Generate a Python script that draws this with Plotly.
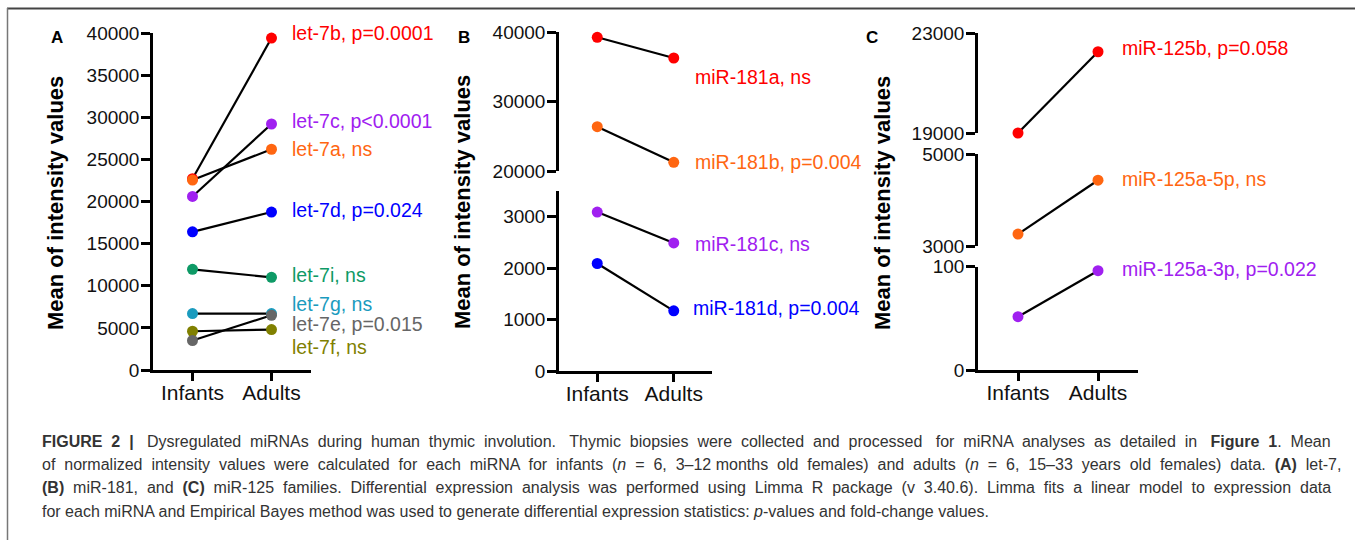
import plotly.graph_objects as go

W, H = 1355, 540

groups = ["Infants", "Adults"]

# ---------------- Panel A: let-7 family ----------------
a_names = ["let-7b", "let-7c", "let-7a", "let-7d", "let-7i", "let-7g", "let-7f", "let-7e"]
a_stats = ["p=0.0001", "p<0.0001", "ns", "p=0.024", "ns", "ns", "ns", "p=0.015"]
a_infants = [22700, 20600, 22550, 16400, 11950, 6700, 4600, 3500]
a_adults = [39400, 29200, 26200, 18750, 11000, 6700, 4800, 6500]
a_colors = ["#FF0000", "#A020F0", "#FF6611", "#0000FF", "#0E9A66", "#1A9BBE", "#808000", "#666666"]
a_label_y = [40000, 29600, 26230, 19000, 11280, 7800, 2770, 5420]
a_ticks = [0, 5000, 10000, 15000, 20000, 25000, 30000, 35000, 40000]

# ---------------- Panel B: miR-181 family ----------------
b_names = ["miR-181a", "miR-181b", "miR-181c", "miR-181d"]
b_stats = ["ns", "p=0.004", "ns", "p=0.004"]
b_infants = [39240, 26370, 3090, 2090]
b_adults = [36260, 21250, 2490, 1170]
b_colors = ["#FF0000", "#FF6611", "#A020F0", "#0000FF"]
b_segment = ["upper", "upper", "lower", "lower"]
b_label_y = [33500, 21270, 2470, 1220]
b_ticks_upper = [20000, 30000, 40000]
b_ticks_lower = [0, 1000, 2000, 3000]

# ---------------- Panel C: miR-125 family ----------------
c_names = ["miR-125b", "miR-125a-5p", "miR-125a-3p"]
c_stats = ["p=0.058", "ns", "p=0.022"]
c_infants = [19000, 3260, 51.6]
c_adults = [22250, 4430, 96.1]
c_colors = ["#FF0000", "#FF6611", "#A020F0"]
c_segment = ["upper", "middle", "lower"]
c_label_y = [22400, 4460, 98]
c_ticks_upper = [19000, 23000]
c_ticks_middle = [3000, 5000]
c_ticks_lower = [0, 100]

caption_lines = [
    "<b>FIGURE 2 |</b> Dysregulated miRNAs during human thymic involution. Thymic biopsies were collected and processed for miRNA analyses as detailed in <b>Figure 1</b>. Mean",
    "of normalized intensity values were calculated for each miRNA for infants (<i>n</i> = 6, 3–12 months old females) and adults (<i>n</i> = 6, 15–33 years old females) data. <b>(A)</b> let-7,",
    "<b>(B)</b> miR-181, and <b>(C)</b> miR-125 families. Differential expression analysis was performed using Limma R package (v 3.40.6). Limma fits a linear model to expression data",
    "for each miRNA and Empirical Bayes method was used to generate differential expression statistics: <i>p</i>-values and fold-change values.",
]
# number of extra (non-breaking) spaces used to emulate the justified paragraph
caption_extra_spaces = [27, 28, 24, 0]

FONT = "Liberation Sans, Arial, sans-serif"
CAP_FONT = "Liberation Sans, Arial, sans-serif"


def px(x):
    return x / W


def py(y):
    return 1 - y / H


def justify(line, extra):
    if extra <= 0:
        return line
    parts = []
    buf = ""
    in_tag = False
    for ch in line:
        if ch == "<":
            in_tag = True
        elif ch == ">":
            in_tag = False
        if ch == " " and not in_tag:
            parts.append(buf)
            buf = ""
        else:
            buf += ch
    parts.append(buf)
    gaps = len(parts) - 1
    out = parts[0]
    given = 0
    for g in range(gaps):
        want = round((g + 1) * extra / gaps)
        n = want - given
        given = want
        out += " " + "\u00a0" * n + parts[g + 1]
    return out


fig = go.Figure()

# axis definitions: key -> (x pixel span, y pixel span (top, bottom), y range, ticks, show x)
axes = {
    "A": ((153, 311), (33, 370), [0, 40000], a_ticks, True),
    "B_lower": ((559, 712), (191, 371), [0, 3500], b_ticks_lower, True),
    "B_upper": ((559, 712), (32, 171), [20000, 40000], b_ticks_upper, False),
    "C_lower": ((978, 1138), (266.7, 370), [0, 100], c_ticks_lower, True),
    "C_middle": ((978, 1138), (154, 246), [3000, 5000], c_ticks_middle, False),
    "C_upper": ((978, 1138), (33, 133), [19000, 23000], c_ticks_upper, False),
}
axis_ids = {}
layout_axes = {}
for i, (key, (xs, ys, yr, ticks, showx)) in enumerate(axes.items(), start=1):
    sfx = "" if i == 1 else str(i)
    axis_ids[key] = ("x" + sfx, "y" + sfx)
    layout_axes["xaxis" + sfx] = dict(
        domain=[px(xs[0]), px(xs[1])],
        anchor="y" + sfx,
        type="category",
        categoryorder="array",
        categoryarray=groups,
        range=[-0.5, 1.5],
        visible=showx,
        automargin=False,
        showline=True, linecolor="black", linewidth=2.5,
        ticks="outside", ticklen=8, tickwidth=2.5, tickcolor="black",
        ticklabelstandoff=-6,
        showgrid=False, zeroline=False,
        tickfont=dict(family=FONT, size=21, color="#111111"),
        fixedrange=True,
    )
    layout_axes["yaxis" + sfx] = dict(
        domain=[py(ys[1]), py(ys[0])],
        anchor="x" + sfx,
        range=yr,
        automargin=False,
        tickvals=ticks,
        ticktext=[str(t) for t in ticks],
        showline=True, linecolor="black", linewidth=2.5,
        ticks="outside", ticklen=9, tickwidth=2.5, tickcolor="black",
        ticklabelstandoff=-2,
        showgrid=False, zeroline=False,
        tickfont=dict(family=FONT, size=19, color="#111111"),
        fixedrange=True,
    )

series = []
for n, s, i0, a0, col, ly in zip(a_names, a_stats, a_infants, a_adults, a_colors, a_label_y):
    series.append(("A", n, s, i0, a0, col, ly, 1.23))
for n, s, i0, a0, col, seg, ly in zip(b_names, b_stats, b_infants, b_adults, b_colors, b_segment, b_label_y):
    series.append(("B_" + seg, n, s, i0, a0, col, ly, 1.25 if n != "miR-181d" else 1.22))
for n, s, i0, a0, col, seg, ly in zip(c_names, c_stats, c_infants, c_adults, c_colors, c_segment, c_label_y):
    series.append(("C_" + seg, n, s, i0, a0, col, ly, 1.27))

# connecting lines first
for key, n, s, i0, a0, col, ly, lx in series:
    xa, ya = axis_ids[key]
    fig.add_trace(go.Scatter(
        x=groups, y=[i0, a0], xaxis=xa, yaxis=ya, mode="lines",
        line=dict(color="black", width=2.2), cliponaxis=False,
        showlegend=False, hoverinfo="skip",
    ))
# markers on top
annotations = []
for key, n, s, i0, a0, col, ly, lx in series:
    xa, ya = axis_ids[key]
    fig.add_trace(go.Scatter(
        x=groups, y=[i0, a0], xaxis=xa, yaxis=ya, mode="markers",
        marker=dict(color=col, size=11, line=dict(width=0)), cliponaxis=False,
        showlegend=False, name=n,
    ))
    annotations.append(dict(
        x=lx, y=ly, xref=xa, yref=ya, text=f"{n}, {s}", showarrow=False,
        xanchor="left", yanchor="middle",
        font=dict(family=FONT, size=19.5, color=col),
    ))

# y-axis titles and panel letters
for xc, yc in [(55, 203), (463, 202), (882, 203)]:
    annotations.append(dict(
        x=px(xc), y=py(yc), xref="paper", yref="paper", text="<b>Mean of intensity values</b>",
        textangle=-90, showarrow=False, xanchor="center", yanchor="middle",
        font=dict(family=FONT, size=22, color="black"),
    ))
for letter, xc in [("A", 57), ("B", 464), ("C", 872)]:
    annotations.append(dict(
        x=px(xc), y=py(37), xref="paper", yref="paper", text=f"<b>{letter}</b>",
        showarrow=False, xanchor="center", yanchor="middle",
        font=dict(family=FONT, size=17, color="black"),
    ))

# caption
for k, (line, extra) in enumerate(zip(caption_lines, caption_extra_spaces)):
    annotations.append(dict(
        x=px(40), y=py(441 + k * 23.4), xref="paper", yref="paper", text=justify(line, extra),
        showarrow=False, xanchor="left", yanchor="middle",
        font=dict(family=CAP_FONT, size=16, color="#333333"),
    ))

shapes = [
    dict(type="line", xref="paper", yref="paper", x0=px(7), x1=1, y0=py(8.5), y1=py(8.5),
         line=dict(color="#444444", width=2), layer="above"),
    dict(type="line", xref="paper", yref="paper", x0=px(7.5), x1=px(7.5), y0=py(8), y1=0,
         line=dict(color="#777777", width=1.5), layer="above"),
]

fig.update_layout(
    width=W, height=H,
    autosize=False,
    margin=dict(l=0, r=0, t=0, b=0, pad=0, autoexpand=False),
    paper_bgcolor="white", plot_bgcolor="white",
    annotations=annotations, shapes=shapes,
    showlegend=False,
    **layout_axes,
)

fig.write_html(
    "out.html",
    config={"displayModeBar": False, "responsive": False},
    post_script="document.body.style.margin='0';document.body.style.padding='0';",
)
